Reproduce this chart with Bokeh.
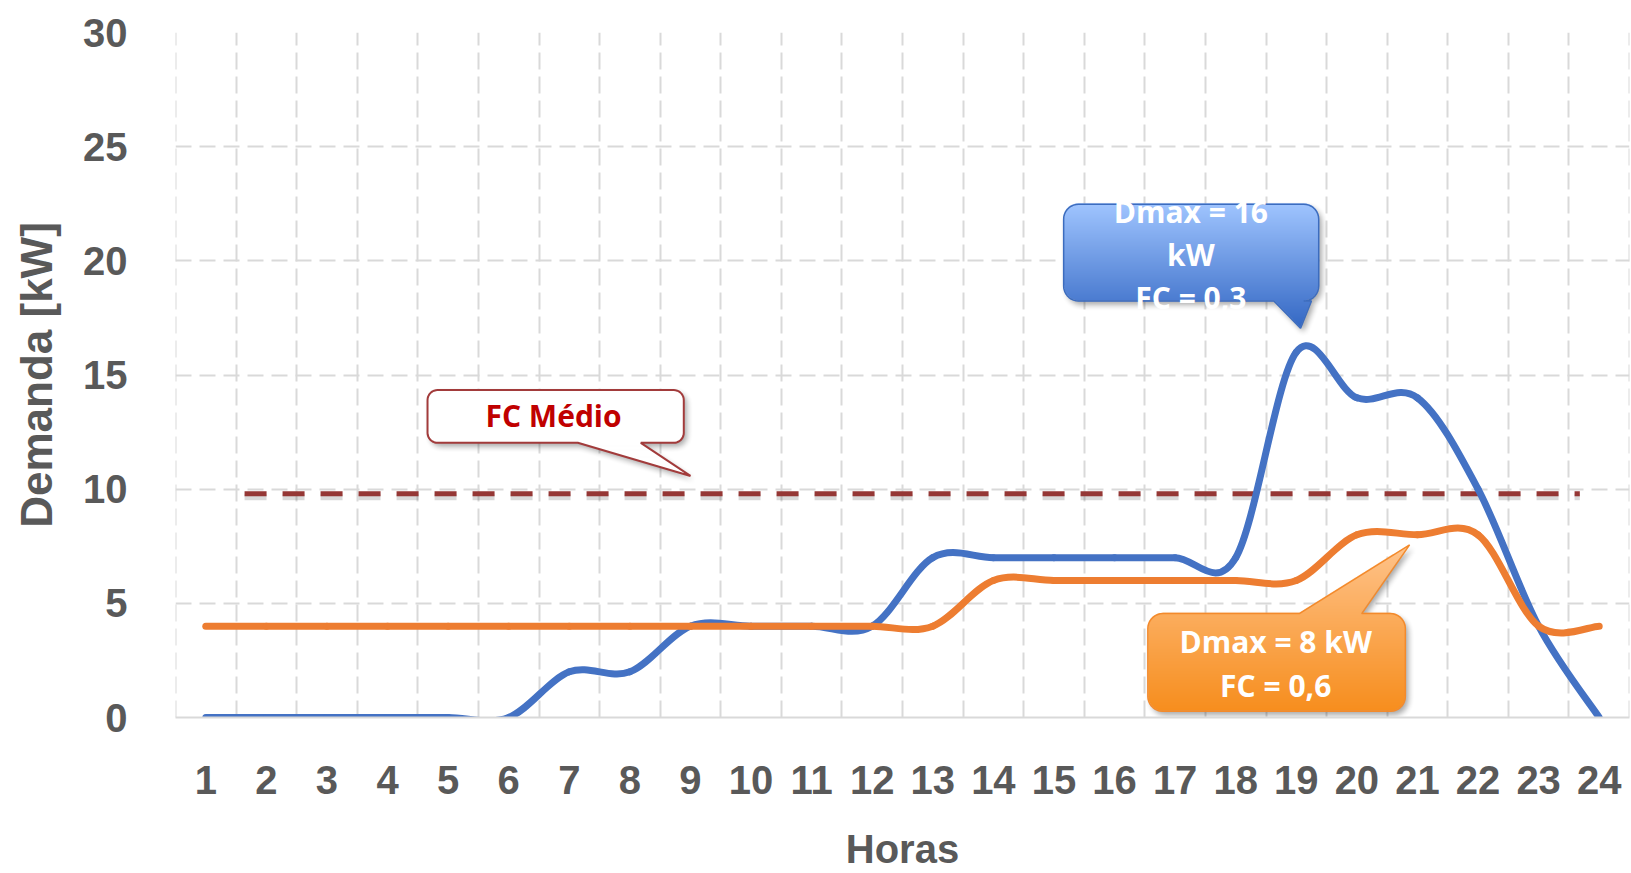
import numpy as np
from bokeh.plotting import figure
from bokeh.models import FixedTicker, Range1d, ColumnDataSource
from bokeh.core.properties import value
from bokeh.embed import file_html
from bokeh.resources import INLINE

# ---------------- data ----------------
horas = list(range(1, 25))
hour_labels = [str(h) for h in horas]
demanda_fc03 = [0, 0, 0, 0, 0, 0, 2, 2, 4, 4, 4, 4, 7, 7, 7, 7, 7, 7, 16, 14, 14, 10, 4, 0]
demanda_fc06 = [4, 4, 4, 4, 4, 4, 4, 4, 4, 4, 4, 4, 4, 6, 6, 6, 6, 6, 6, 8, 8, 8, 4, 4]
fc_medio_valor = 9.8
fc_medio_horas = [1.64, 23.68]
y_ticks = [0, 5, 10, 15, 20, 25, 30]

texto_fc03 = ["Dmax = 16", "kW", "FC = 0,3"]
texto_fc06 = ["Dmax = 8 kW", "FC = 0,6"]
texto_medio = ["FC Médio"]

# ---------------- layout constants ----------------
FRAME_W, FRAME_H = 1454, 687
PX = FRAME_W / 24.0   # px per hour
PY = FRAME_H / 30.0   # px per kW

BLUE = "#4472C4"
ORANGE = "#ED7D31"
DARKRED = "#953735"
GRID = "#D9D9D9"
TXT = "#595959"
AXFONT = "Liberation Sans"

p = figure(width=1630, height=873, x_range=Range1d(0.5, 24.5), y_range=Range1d(0, 30),
           output_backend="svg", toolbar_location=None, tools="",
           min_border_left=175, min_border_right=1, min_border_top=32, min_border_bottom=154)
p.outline_line_color = None
p.background_fill_color = "white"
p.border_fill_color = "white"

# grids
p.xgrid.ticker = FixedTicker(ticks=[0.505] + [h + 0.5 for h in horas[:-1]] + [24.495])
p.ygrid.ticker = FixedTicker(ticks=y_ticks)
p.xgrid.grid_line_color = GRID
p.xgrid.grid_line_width = 2
p.xgrid.grid_line_dash = "17 7"
p.ygrid.grid_line_color = GRID
p.ygrid.grid_line_width = 2
p.ygrid.grid_line_dash = "16 8"

# axes
p.xaxis.ticker = FixedTicker(ticks=horas)
p.xaxis.major_label_overrides = {h: lab for h, lab in zip(horas, hour_labels)}
p.xaxis.axis_line_color = GRID
p.xaxis.axis_line_width = 2
p.xaxis.major_tick_line_color = None
p.xaxis.minor_tick_line_color = None
p.xaxis.major_label_standoff = 42
p.xaxis.major_label_text_font = AXFONT
p.xaxis.major_label_text_font_style = "bold"
p.xaxis.major_label_text_font_size = "40px"
p.xaxis.major_label_text_color = TXT
p.xaxis.axis_label = "Horas"
p.xaxis.axis_label_text_font = AXFONT
p.xaxis.axis_label_text_font_style = "bold"
p.xaxis.axis_label_text_font_size = "40px"
p.xaxis.axis_label_text_color = TXT
p.xaxis.axis_label_standoff = 30

p.yaxis.ticker = FixedTicker(ticks=y_ticks)
p.yaxis.axis_line_color = None
p.yaxis.major_tick_line_color = None
p.yaxis.minor_tick_line_color = None
p.yaxis.major_label_standoff = 42
p.yaxis.major_label_text_font = AXFONT
p.yaxis.major_label_text_font_style = "bold"
p.yaxis.major_label_text_font_size = "40px"
p.yaxis.major_label_text_color = TXT
p.yaxis.axis_label = "Demanda [kW]"
p.yaxis.axis_label_text_font = AXFONT
p.yaxis.axis_label_text_font_style = "bold"
p.yaxis.axis_label_text_font_size = "44px"
p.yaxis.axis_label_text_color = TXT
p.yaxis.axis_label_standoff = 19


# ---------------- smoothed (Excel-like) curves ----------------
def bezier_source(xs, ys):
    n = len(xs)
    d = {k: [] for k in ("x0", "y0", "x1", "y1", "cx0", "cy0", "cx1", "cy1")}
    for i in range(n - 1):
        xp, yp = (xs[i - 1], ys[i - 1]) if i > 0 else (xs[i], ys[i])
        xn, yn = (xs[i + 2], ys[i + 2]) if i + 2 < n else (xs[i + 1], ys[i + 1])
        d["x0"].append(xs[i]); d["y0"].append(ys[i])
        d["x1"].append(xs[i + 1]); d["y1"].append(ys[i + 1])
        d["cx0"].append(xs[i] + (xs[i + 1] - xp) / 6.0)
        d["cy0"].append(ys[i] + (ys[i + 1] - yp) / 6.0)
        d["cx1"].append(xs[i + 1] - (xn - xs[i]) / 6.0)
        d["cy1"].append(ys[i + 1] - (yn - ys[i]) / 6.0)
    return ColumnDataSource(d)


# FC medio dashed line (shadow + line)
p.line(x=fc_medio_horas, y=[fc_medio_valor - 3.5 / PY] * 2, line_color="black", line_alpha=0.15,
       line_width=6, line_dash="22 16")
p.line(x=fc_medio_horas, y=[fc_medio_valor] * 2, line_color=DARKRED, line_width=5, line_dash="22 16")

for serie, cor in ((demanda_fc03, BLUE), (demanda_fc06, ORANGE)):
    p.bezier(x0="x0", y0="y0", x1="x1", y1="y1", cx0="cx0", cy0="cy0", cx1="cx1", cy1="cy1",
             source=bezier_source(horas, serie), line_color=cor, line_width=7, line_cap="round")


# ---------------- callouts ----------------
def callout_polygon(box, tail, side, r, n_arc=10):
    L, R = (box[0] - 0.5) * PX, (box[1] - 0.5) * PX
    B, T = box[2] * PY, box[3] * PY
    b0, b1 = (tail[0] - 0.5) * PX, (tail[1] - 0.5) * PX
    tx, ty = (tail[2] - 0.5) * PX, tail[3] * PY
    pts = []

    def arc(cx, cy, a0, a1):
        for a in np.linspace(np.radians(a0), np.radians(a1), n_arc):
            pts.append((cx + r * np.cos(a), cy + r * np.sin(a)))

    arc(L + r, T - r, 180, 90)
    if side == "top":
        pts.extend([(b0, T), (tx, ty), (b1, T)])
    arc(R - r, T - r, 90, 0)
    arc(R - r, B + r, 0, -90)
    if side == "bottom":
        pts.extend([(b1, B), (tx, ty), (b0, B)])
    arc(L + r, B + r, -90, -180)
    return np.array(pts)


def inside(poly, X, Y):
    res = np.zeros(X.shape, dtype=bool)
    n = len(poly)
    for i in range(n):
        x1, y1 = poly[i]
        x2, y2 = poly[(i + 1) % n]
        if y1 == y2:
            continue
        cond = (y1 > Y) != (y2 > Y)
        xint = x1 + (Y - y1) * (x2 - x1) / (y2 - y1)
        res ^= cond & (X < xint)
    return res


def blur1d(a, k, axis):
    ker = np.ones(k) / k
    return np.apply_along_axis(lambda v: np.convolve(v, ker, mode="same"), axis, a)


def callout_image(poly, top_rgb, bot_rgb, pad=14, ss=3, shadow=(3, -4), blur=7, shadow_alpha=0.35):
    minx, miny = np.floor(poly.min(0) - pad)
    maxx, maxy = np.ceil(poly.max(0) + pad)
    W, H = int(maxx - minx), int(maxy - miny)
    xs = minx + (np.arange(W * ss) + 0.5) / ss
    ys = miny + (np.arange(H * ss) + 0.5) / ss
    X, Y = np.meshgrid(xs, ys)
    cov = inside(poly, X, Y).astype(float).reshape(H, ss, W, ss).mean(axis=(1, 3))
    sh = np.roll(np.roll(cov, shadow[0], axis=1), shadow[1], axis=0)
    for _ in range(2):
        sh = blur1d(sh, blur, 1)
        sh = blur1d(sh, blur, 0)
    sh = sh * shadow_alpha
    y0s, y1s = poly[:, 1].min(), poly[:, 1].max()
    t = np.clip((ys.reshape(H, ss).mean(1) - y0s) / (y1s - y0s), 0, 1)[:, None, None]
    col = np.array(bot_rgb, float)[None, None, :] * (1 - t) + np.array(top_rgb, float)[None, None, :] * t
    a = cov[..., None]
    s = sh[..., None]
    out_a = a + s * (1 - a)
    rgb = col * a / np.maximum(out_a, 1e-6)
    img = np.zeros((H, W), dtype=np.uint32)
    v = img.view(dtype=np.uint8).reshape(H, W, 4)
    v[..., :3] = np.clip(rgb, 0, 255).astype(np.uint8)
    v[..., 3] = np.clip(out_a[..., 0] * 255, 0, 255).astype(np.uint8)
    return img, minx / PX + 0.5, miny / PY, W / PX, H / PY


def draw_callout(box, tail, side, r, top_rgb, bot_rgb, border, border_w):
    poly = callout_polygon(box, tail, side, r)
    img, x, y, dw, dh = callout_image(poly, top_rgb, bot_rgb)
    p.image_rgba(image=[img], x=x, y=y, dw=dw, dh=dh)
    p.patch(x=list(poly[:, 0] / PX + 0.5), y=list(poly[:, 1] / PY), fill_color=None,
            line_color=border, line_width=border_w)


# blue callout (FC = 0,3)
draw_callout((15.16, 19.37, 18.24, 22.48), (18.63, 19.25, 19.07, 17.05), "bottom", 15,
             (160, 197, 255), (52, 104, 196), "#3C6CBE", 1.5)
# orange callout (FC = 0,6)
draw_callout((16.55, 20.80, 0.27, 4.55), (19.05, 20.08, 20.87, 7.56), "top", 15,
             (255, 196, 140), (247, 142, 30), "#F38A2C", 1.5)
# FC medio callout
draw_callout((4.66, 8.89, 12.03, 14.34), (7.14, 8.18, 9.00, 10.58), "bottom", 10,
             (255, 255, 255), (255, 255, 255), "#A23B3B", 2)

FONT_CALLOUT = value("Open Sans")
p.text(x=[17.26] * 3, y=[22.14, 20.29, 18.41], text=texto_fc03, text_color="white",
       text_font=FONT_CALLOUT, text_font_style="bold", text_font_size="30px",
       text_align="center", text_baseline="alphabetic")
p.text(x=[18.66] * 2, y=[3.31, 1.42], text=texto_fc06, text_color="white",
       text_font=FONT_CALLOUT, text_font_style="bold", text_font_size="30px",
       text_align="center", text_baseline="alphabetic")
p.text(x=[6.74], y=[13.22], text=texto_medio, text_color="#C00000",
       text_font=FONT_CALLOUT, text_font_style="bold", text_font_size="30px",
       text_align="center", text_baseline="alphabetic")

open("out.html", "w").write(file_html(p, INLINE))
